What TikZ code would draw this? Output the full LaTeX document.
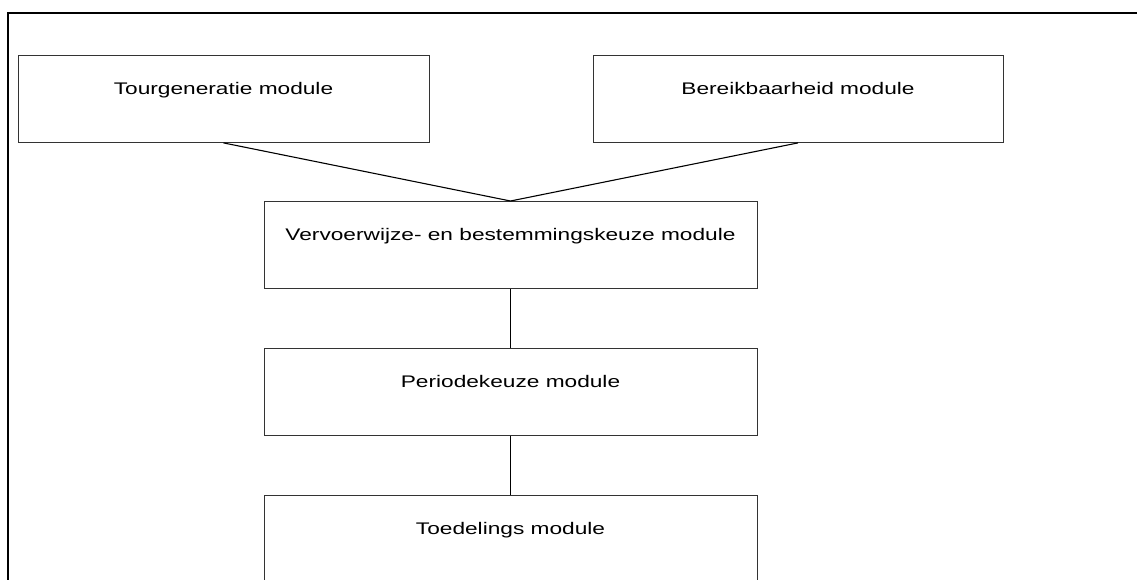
\documentclass[tikz,border=0pt]{standalone}
\usepackage{fontspec}
\setmainfont{Liberation Sans}[FakeStretch=1.35]
\usetikzlibrary{positioning}
\begin{document}
\begin{tikzpicture}[x=1pt, y=-1pt, line join=miter, font=\fontsize{16.8}{20}\selectfont,
	module/.style={draw=black!80, line width=0.9pt, minimum width=#1, inner xsep=0pt, inner ysep=0pt, text height=39pt, text depth=48pt},
	module/.default=493pt,
	wire/.style={draw=black, line width=1.1pt},
	frame/.style={draw=black, line width=2pt},
	node distance=59pt]
	\useasboundingbox (0,0) rectangle (1137,579);
	\clip (0,0) rectangle (1137,579);
	\draw[frame] (8,620) -- (8,13) -- (1180,13);
	\node[module=411pt, anchor=north] (tour) at (223.5,55) {Tourgeneratie module};
	\node[module=410pt, anchor=north] (bereik) at (798,55) {Bereikbaarheid module};
	\node[module, anchor=north] (keuze) at (510.5,201) {Vervoerwijze- en bestemmingskeuze module};
	\node[module, below=of keuze] (periode) {Periodekeuze module};
	\node[module, below=of periode, text depth=80pt] (toedeling) {Toedelings module};
	\foreach \a/\b in {tour/keuze, bereik/keuze, keuze/periode, periode/toedeling}
	\draw[wire] (\a.south) -- (\b.north);
\end{tikzpicture}
\end{document}
